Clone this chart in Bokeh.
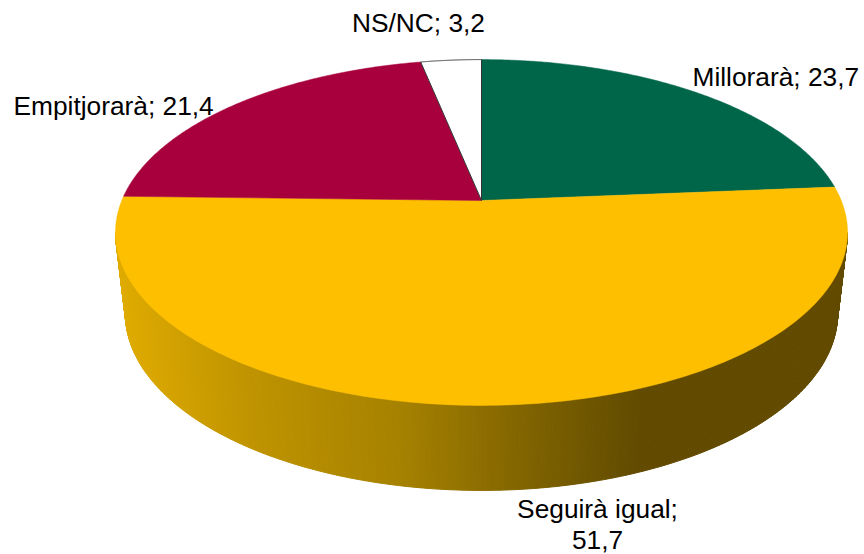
import numpy as np
from bokeh.plotting import figure
from bokeh.models import ColumnDataSource, Range1d
from bokeh.core.properties import value
from bokeh.embed import file_html
from bokeh.resources import INLINE

# ---- data ----
categories = ["Millorarà", "Seguirà igual", "Empitjorarà", "NS/NC"]
values = [23.7, 51.7, 21.4, 3.2]
colors = ["#00664A", "#FDBF00", "#A8003C", "#FFFFFF"]
label_x = [692, 597, 13, 418]
label_y = [76.5, 524, 105, 22]
label_align = ["left", "center", "left", "center"]
label_sep = ["; ", ";\n", "; ", "; "]

# ---- projection of the tilted disc (screen pixels) ----
CX, CY = 481.0, 200.0
A, B, K = 359.7, 167.0, 0.185
SX_BOTTOM, SY_BOTTOM, CY_BOTTOM = 0.973, 1.023, 280.3


def project(theta, sx=1.0, sy=1.0, cy=CY):
    u, v = np.sin(theta), np.cos(theta)
    w = 1 + K * v
    return CX + sx * A * u / w, cy - sy * B * v / w


# side-wall shading: (x pixel, colour)
shade_x = [120, 250, 400, 490, 600, 640, 850]
shade_r = [224, 192, 166, 139, 107, 98, 98]
shade_g = [172, 148, 130, 108, 83, 75, 75]

p = figure(width=864, height=554, output_backend="svg", toolbar_location=None,
           x_range=Range1d(0, 864), y_range=Range1d(554, 0),
           min_border=0, outline_line_color=None, background_fill_color="white",
           border_fill_color="white")
p.axis.visible = False
p.grid.visible = False

# side wall
t_start = np.radians(100.7)
t_end = np.radians(259.3)
edges = np.linspace(t_start, t_end, 321)
wx, wy, wc = [], [], []
for a, b in zip(edges[:-1], edges[1:]):
    xa, ya = project(a)
    xb, yb = project(b)
    xc, yc = project(b, SX_BOTTOM, SY_BOTTOM, CY_BOTTOM)
    xd, yd = project(a, SX_BOTTOM, SY_BOTTOM, CY_BOTTOM)
    wx.append([xa, xb, xc, xd])
    wy.append([ya, yb, yc, yd])
    mid = (xa + xb + xc + xd) / 4
    r = int(np.interp(mid, shade_x, shade_r))
    g = int(np.interp(mid, shade_x, shade_g))
    wc.append(f"#{r:02x}{g:02x}00")
p.patches(wx, wy, fill_color=wc, line_color=wc, line_width=1)

# top face
fractions = np.cumsum([0] + values) / sum(values) * 2 * np.pi
sx, sy, sc = [], [], []
for i in range(len(values)):
    th = np.linspace(fractions[i], fractions[i + 1], 200)
    x, y = project(th)
    sx.append([CX] + list(x))
    sy.append([CY] + list(y))
    sc.append(colors[i])
p.patches(sx[:3], sy[:3], fill_color=sc[:3], line_color=sc[:3], line_width=0.5)
p.patches(sx[3:], sy[3:], fill_color=sc[3:], line_color="#333333", line_width=1)

# labels
texts = [f"{c}{s}{str(v).replace('.', ',')}" for c, s, v in zip(categories, label_sep, values)]
src = ColumnDataSource(dict(x=label_x, y=label_y, t=texts, a=label_align))
p.text("x", "y", text="t", source=src, text_align="a", text_baseline="middle",
       text_font=value("Liberation Sans"), text_font_size="26.3px", text_color="#000000",
       text_line_height=1.03)

open("out.html", "w").write(file_html(p, INLINE))
